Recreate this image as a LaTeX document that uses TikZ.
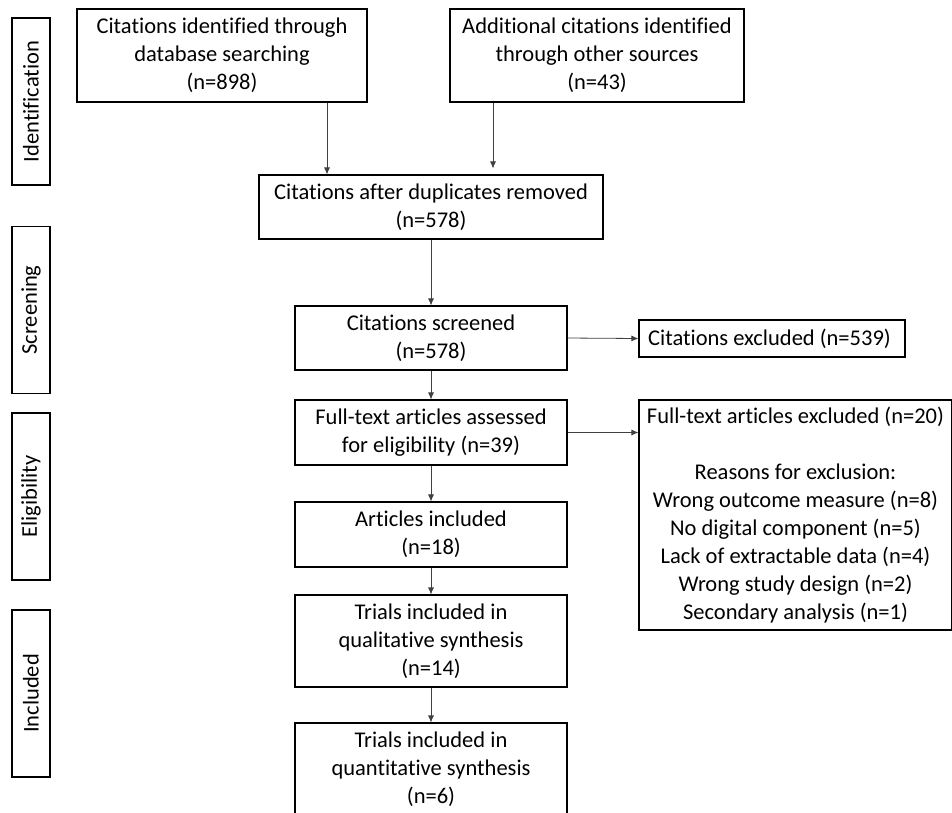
\documentclass[tikz,border=0pt]{standalone}
\usepackage{fontspec}
\setmainfont{Carlito}[Ligatures=NoCommon]
\usetikzlibrary{arrows.meta}

\begin{document}
\begin{tikzpicture}[
    x=1pt, y=-1pt,
    box_format/.style={draw, line width=1.1pt, align=center, inner sep=0pt,
      font=\fontsize{22.5}{28}\selectfont},
    stage_format/.style={box_format, rotate=90, minimum width=167pt, minimum height=38pt},
    arrow_format/.style={draw=black!75, line width=0.8pt, -{Latex[length=7pt, width=6pt]}},
    ]

    % --- Canvas ---
    \clip (0,0) rectangle (952,812);

    % --- Stage labels (left column) ---
    \node[stage_format] (identification) at (31,101.5) {Identification};
    \node[stage_format] (screening) at (31,310) {Screening};
    \node[stage_format] (eligibility) at (31,496.5) {Eligibility};
    \node[stage_format] (included) at (31,693.5) {Included};

    % --- Identification boxes ---
    \node[box_format, minimum width=290pt, minimum height=93pt] (database) at (222,55.5) {
      Citations identified through \\
      database searching \\
      (n=898)
    };
    \node[box_format, minimum width=294pt, minimum height=93pt] (other) at (597,55.5) {
      Additional citations identified \\
      through other sources \\
      (n=43)
    };

    % --- Main column ---
    \node[box_format, minimum width=344pt, minimum height=64pt] (duplicates) at (431,207) {
      Citations after duplicates removed \\
      (n=578)
    };
    \node[box_format, minimum width=272pt, minimum height=64pt] (screened) at (431,338) {
      Citations screened \\
      (n=578)
    };
    \node[box_format, minimum width=272pt, minimum height=65pt] (assessed) at (431,432.5) {
      Full-text articles assessed \\
      for eligibility (n=39)
    };
    \node[box_format, minimum width=272pt, minimum height=65pt] (articles) at (431,534.5) {
      Articles included \\
      (n=18)
    };
    \node[box_format, minimum width=272pt, minimum height=92pt] (qualitative) at (431,641) {
      Trials included in \\
      qualitative synthesis \\
      (n=14)
    };
    \node[box_format, minimum width=272pt, minimum height=92pt] (quantitative) at (431,769) {
      Trials included in \\
      quantitative synthesis \\
      (n=6)
    };

    % --- Exclusion boxes (right column) ---
    \node[box_format, minimum width=266pt, minimum height=37pt] (excluded) at (772,338.5) {
      Citations excluded (n=539)
    };
    \node[box_format, minimum width=313pt, minimum height=230pt] (reasons) at (795.5,515) {
      Full-text articles excluded (n=20) \\
      \\
      Reasons for exclusion: \\
      Wrong outcome measure (n=8) \\
      No digital component (n=5) \\
      Lack of extractable data (n=4) \\
      Wrong study design (n=2) \\
      Secondary analysis (n=1)
    };

    % --- Arrows ---
    \coordinate (left_drop) at (327,0);
    \coordinate (right_drop) at (493,0);
    \draw[arrow_format] (left_drop |- database.south) -- (left_drop |- duplicates.north);
    \draw[arrow_format, shorten >=6pt] (right_drop |- other.south) -- (right_drop |- duplicates.north);
    \draw[arrow_format] (duplicates) -- (screened);
    \draw[arrow_format] (screened) -- (assessed);
    \draw[arrow_format] (assessed) -- (articles);
    \draw[arrow_format] (articles) -- (qualitative);
    \draw[arrow_format] (qualitative) -- (quantitative);
    \draw[arrow_format] (screened.east) -- (excluded.west);
    \draw[arrow_format] (assessed.east) -- (assessed.east -| reasons.west);

  \end{tikzpicture}
\end{document}
